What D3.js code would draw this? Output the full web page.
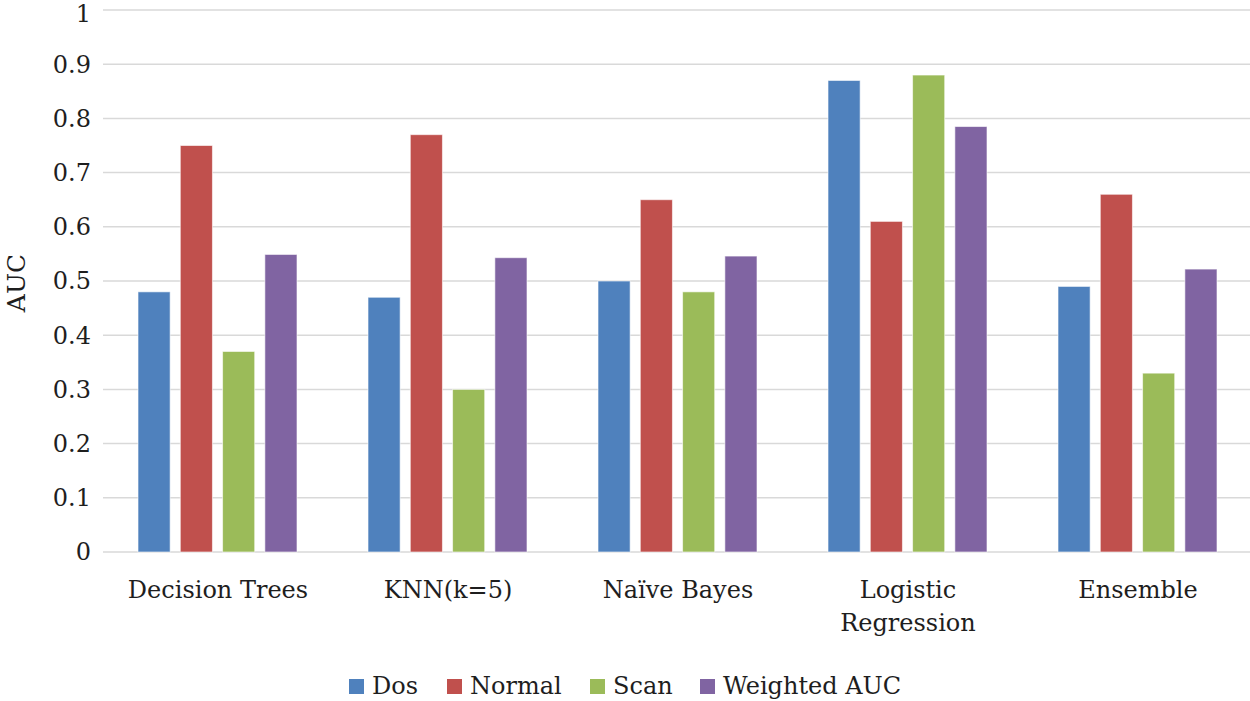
<!DOCTYPE html>
<html><head><meta charset="utf-8">
<script src="https://cdn.jsdelivr.net/npm/d3@7"></script>
<style>body{margin:0;background:#fff}svg{display:block}</style>
</head><body>
<svg id="c" width="1250" height="701"></svg>
<script>
const categories = ["Decision Trees", "KNN(k=5)", "Naïve Bayes", "Logistic Regression", "Ensemble"];
const seriesNames = ["Dos", "Normal", "Scan", "Weighted AUC"];
const dos = [0.48, 0.47, 0.50, 0.87, 0.49];
const normal = [0.75, 0.77, 0.65, 0.61, 0.66];
const scan = [0.37, 0.30, 0.48, 0.88, 0.33];
const weighted = [0.549, 0.543, 0.546, 0.785, 0.522];
const yTicks = [0, 0.1, 0.2, 0.3, 0.4, 0.5, 0.6, 0.7, 0.8, 0.9, 1];
const colors = ["#4F81BD", "#C0504D", "#9BBB59", "#8064A2"];

(function () {
const values = [dos, normal, scan, weighted];
const font = "'DejaVu Serif', 'Liberation Serif', serif";
const svg = d3.select("#c");
const pLeft = 103, pRight = 1253, pTop = 10, pBottom = 552;

const y = d3.scaleLinear().domain([0, 1]).range([pBottom, pTop]);
const x0 = d3.scaleBand().domain(categories).range([pLeft, pRight]).paddingInner(0).paddingOuter(0);
const x1 = d3.scaleBand().domain(seriesNames).range([35, 194]).paddingInner(0.24).paddingOuter(0);

// gridlines
svg.append("g").selectAll("line").data(yTicks).join("line")
  .attr("x1", pLeft).attr("x2", 1250)
  .attr("y1", d => y(d)).attr("y2", d => y(d))
  .attr("stroke", "#d9d9d9").attr("stroke-width", 1.5);

// y tick labels
svg.append("g").selectAll("text").data(yTicks).join("text")
  .attr("x", 91).attr("y", d => y(d) + (d === 1 ? 4 : 0)).attr("dy", "0.35em")
  .attr("text-anchor", "end").attr("font-family", font).attr("font-size", 24)
  .attr("fill", "#1e1e1e").text(d => d3.format("")(d));

// y axis title
svg.append("text").attr("transform", "translate(25," + 283 + ") rotate(-90)")
  .attr("text-anchor", "middle").attr("font-family", font).attr("font-size", 25)
  .attr("fill", "#1e1e1e").text("AUC");

// bars
const g = svg.append("g");
categories.forEach((c, i) => {
  seriesNames.forEach((s, j) => {
    g.append("rect")
      .attr("x", x0(c) + x1(s))
      .attr("y", y(values[j][i]))
      .attr("width", x1.bandwidth())
      .attr("height", y(0) - y(values[j][i]))
      .attr("fill", colors[j])
      .attr("stroke", "#ffffff").attr("stroke-opacity", 0.6).attr("stroke-width", 1);
  });
});

// category labels
categories.forEach(c => {
  const cx = x0(c) + x0.bandwidth() / 2;
  const lines = c === "Logistic Regression" ? ["Logistic", "Regression"] : [c];
  lines.forEach((t, k) => {
    svg.append("text").attr("x", cx).attr("y", 598 + k * 33)
      .attr("text-anchor", "middle").attr("font-family", font).attr("font-size", 24)
      .attr("fill", "#1e1e1e").text(t);
  });
});

// legend
const legendX = [349, 447, 590, 700];
seriesNames.forEach((s, j) => {
  svg.append("rect").attr("x", legendX[j]).attr("y", 679).attr("width", 15).attr("height", 15)
    .attr("fill", colors[j]);
  svg.append("text").attr("x", legendX[j] + 23).attr("y", 686).attr("dy", "0.35em")
    .attr("font-family", font).attr("font-size", 24).attr("fill", "#1e1e1e").text(s);
});
})();
</script>
</body></html>
